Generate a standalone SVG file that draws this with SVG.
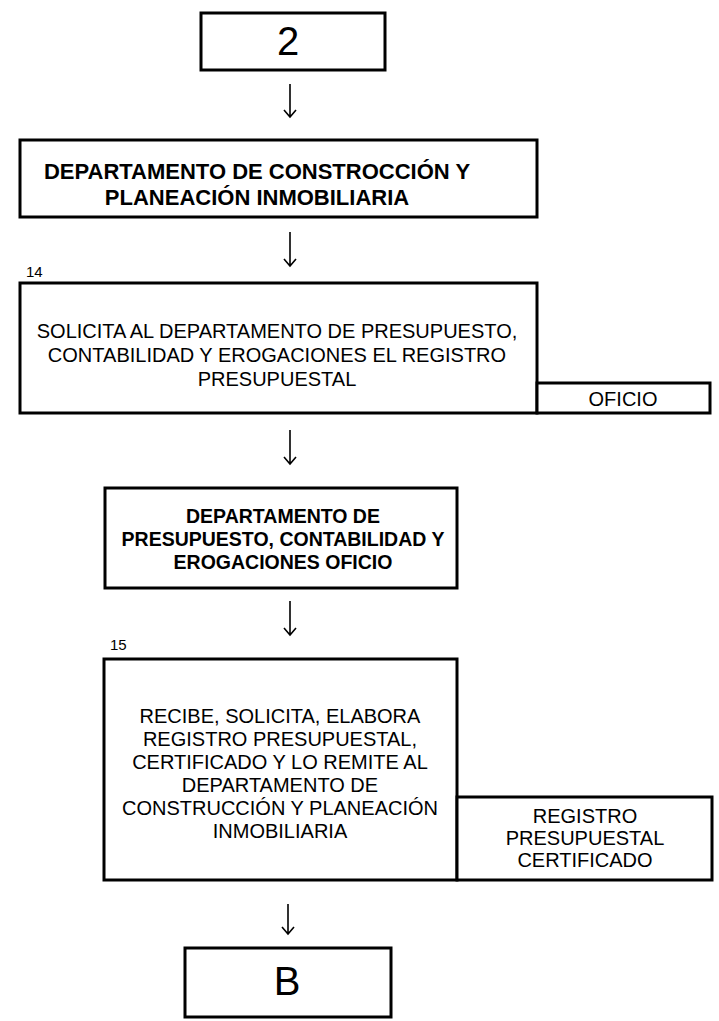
<svg xmlns="http://www.w3.org/2000/svg" width="719" height="1021" viewBox="0 0 719 1021">
<style>
.box{fill:#fff;stroke:#000;stroke-width:3}
.t{font-family:"Liberation Sans",Arial,sans-serif;fill:#000;text-anchor:middle}
.bA{font-weight:bold;font-size:22px}
.bC{font-weight:bold;font-size:19.5px}
.r{font-size:20px}
.big{font-size:40px}
.num{font-family:"Liberation Sans",Arial,sans-serif;font-size:15px;fill:#000}
.c{fill:none;stroke:#000;stroke-width:1.6}
</style>
<rect width="719" height="1021" fill="#fff"/>
<g id="connectors">
<path class="c" d="M290 84V117M284 110L290 117L296 110"/>
<path class="c" d="M290 232V266M284 259L290 266L296 259"/>
<path class="c" d="M290 430V464M284 457L290 464L296 457"/>
<path class="c" d="M290 601V635M284 628L290 635L296 628"/>
<path class="c" d="M288 904V934M282 927L288 934L294 927"/>
</g>
<g id="n2">
<rect class="box" x="201" y="13" width="184" height="57"/>
<text class="t big" x="288" y="55">2</text>
</g>
<g id="nA">
<rect class="box" x="20" y="140" width="517" height="77"/>
<text class="t bA" x="257" y="179">DEPARTAMENTO DE CONSTROCCIÓN Y</text>
<text class="t bA" x="257" y="205">PLANEACIÓN INMOBILIARIA</text>
</g>
<g id="n14">
<text class="num" x="26" y="277">14</text>
<rect class="box" x="20" y="283" width="517" height="130"/>
<text class="t r" x="277" y="338">SOLICITA AL DEPARTAMENTO DE PRESUPUESTO,</text>
<text class="t r" x="277" y="362">CONTABILIDAD Y EROGACIONES EL REGISTRO</text>
<text class="t r" x="277" y="386">PRESUPUESTAL</text>
</g>
<g id="nOficio">
<rect class="box" x="537" y="383" width="173" height="30"/>
<text class="t r" x="623" y="406">OFICIO</text>
</g>
<g id="nC">
<rect class="box" x="105" y="488" width="352" height="100"/>
<text class="t bC" x="283" y="523">DEPARTAMENTO DE</text>
<text class="t bC" x="283" y="546">PRESUPUESTO, CONTABILIDAD Y</text>
<text class="t bC" x="283" y="569">EROGACIONES OFICIO</text>
</g>
<g id="n15">
<text class="num" x="110" y="650">15</text>
<rect class="box" x="104" y="659" width="353" height="221"/>
<text class="t r" x="280" y="723">RECIBE, SOLICITA, ELABORA</text>
<text class="t r" x="280" y="746">REGISTRO PRESUPUESTAL,</text>
<text class="t r" x="280" y="769">CERTIFICADO Y LO REMITE AL</text>
<text class="t r" x="280" y="792">DEPARTAMENTO DE</text>
<text class="t r" x="280" y="815">CONSTRUCCIÓN Y PLANEACIÓN</text>
<text class="t r" x="280" y="838">INMOBILIARIA</text>
</g>
<g id="nReg">
<rect class="box" x="457" y="797" width="255" height="83"/>
<text class="t r" x="585" y="823">REGISTRO</text>
<text class="t r" x="585" y="845">PRESUPUESTAL</text>
<text class="t r" x="585" y="867">CERTIFICADO</text>
</g>
<g id="nB">
<rect class="box" x="185" y="948" width="206" height="69"/>
<text class="t big" x="287" y="995">B</text>
</g>
</svg>
